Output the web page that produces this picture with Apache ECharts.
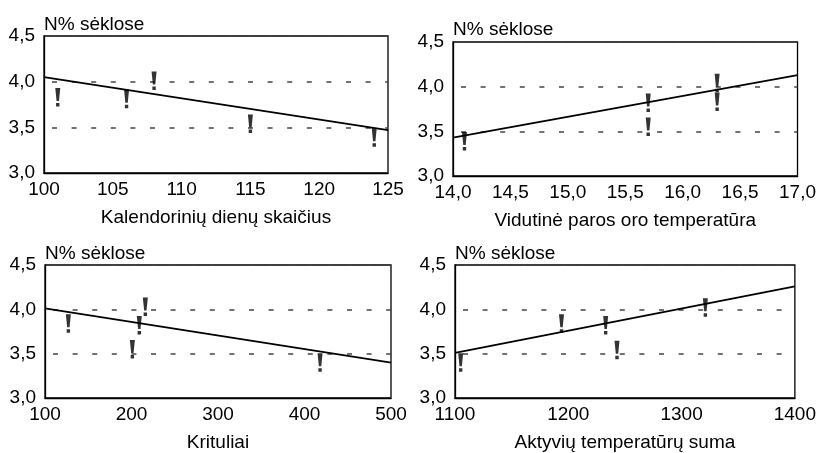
<!DOCTYPE html>
<html>
<head>
<meta charset="utf-8">
<script src="https://cdn.jsdelivr.net/npm/echarts@6/dist/echarts.min.js"></script>
<style>html,body{margin:0;padding:0;background:#fff;}#c{width:819px;height:453px;}</style>
</head>
<body>
<div id="c"></div>
<script>
// Panel 1: Kalendorinių dienų skaičius
const p1Points = [[101, 3.83], [106, 3.81], [108, 4.01], [115, 3.54], [124, 3.39]];
const p1Line = [[100, 4.05], [125, 3.47]];
// Panel 2: Vidutinė paros oro temperatūra
const p2Points = [[14.1, 3.39], [15.7, 3.82], [15.7, 3.55], [16.3, 4.04], [16.3, 3.83]];
const p2Line = [[14.0, 3.43], [17.0, 4.13]];
// Panel 3: Krituliai
const p3Points = [[127, 3.84], [201, 3.55], [209, 3.82], [216, 4.03], [418, 3.40]];
const p3Line = [[100, 4.01], [500, 3.40]];
// Panel 4: Aktyvių temperatūrų suma
const p4Points = [[1105, 3.40], [1194, 3.84], [1233, 3.82], [1243, 3.54], [1321, 4.02]];
const p4Line = [[1100, 3.51], [1400, 4.26]];

const xTitles = ['Kalendorinių dienų skaičius', 'Vidutinė paros oro temperatūra', 'Krituliai', 'Aktyvių temperatūrų suma'];
const yTitle = 'N% sėklose';
const xRanges = [[100, 125, 5], [14, 17, 0.5], [100, 500, 100], [1100, 1400, 100]];
const yRange = [3.0, 4.5, 0.5];

const points = [p1Points, p2Points, p3Points, p4Points];
const lines = [p1Line, p2Line, p3Line, p4Line];

const grids = [
  {left: 44, top: 36, width: 344, height: 137},
  {left: 453, top: 42, width: 345, height: 134},
  {left: 45, top: 265, width: 346, height: 134},
  {left: 455, top: 265, width: 344, height: 134}
];
const nameGaps = [2, 3, 2, 2];
const font = 'Liberation Sans, Arial, sans-serif';
const bang = 'path://M0,0 L5,0 L3.7,13 L1.3,13 Z M0.8,15 L4.2,15 L4.2,18.5 L0.8,18.5 Z';
const comma = v => v.toFixed(1).replace('.', ',');

const option = {
  animation: false,
  backgroundColor: '#fff',
  grid: grids.map(g => Object.assign({show: true, borderColor: '#000', borderWidth: 1.3, backgroundColor: 'transparent'}, g)),
  xAxis: xRanges.map((r, i) => ({
    type: 'value', gridIndex: i, min: r[0], max: r[1], interval: r[2],
    name: xTitles[i], nameLocation: 'middle', nameGap: 35,
    nameTextStyle: {color: '#000', fontSize: 19, fontFamily: font},
    axisLine: {show: true, lineStyle: {color: '#000', width: 1.3}},
    axisTick: {show: false},
    splitLine: {show: false},
    axisLabel: {color: '#000', fontSize: 19, fontFamily: font, margin: 7,
      formatter: i === 1 ? comma : (v => String(v))}
  })),
  yAxis: grids.map((g, i) => ({
    type: 'value', gridIndex: i, min: yRange[0], max: yRange[1], interval: yRange[2],
    name: yTitle, nameLocation: 'end', nameGap: nameGaps[i],
    nameTextStyle: {color: '#000', fontSize: 19, fontFamily: font, align: 'left', verticalAlign: 'bottom'},
    axisLine: {show: true, lineStyle: {color: '#000', width: 1.3}},
    axisTick: {show: false},
    splitLine: {show: true, lineStyle: {color: '#444', width: 1.5, type: [5, 14.6], dashOffset: -8}},
    axisLabel: {color: '#000', fontSize: 19, fontFamily: font, margin: 9, formatter: comma}
  })),
  series: []
};
for (let i = 0; i < 4; i++) {
  option.series.push({
    type: 'line', xAxisIndex: i, yAxisIndex: i, data: lines[i],
    showSymbol: false, symbol: 'none', lineStyle: {color: '#000', width: 1.8}, z: 3
  });
  option.series.push({
    type: 'scatter', xAxisIndex: i, yAxisIndex: i, data: points[i],
    symbol: bang, symbolSize: [5, 18.5], itemStyle: {color: '#000'}, z: 4
  });
}
const chart = echarts.init(document.getElementById('c'), null, {renderer: 'canvas'});
chart.setOption(option);
</script>
</body>
</html>
